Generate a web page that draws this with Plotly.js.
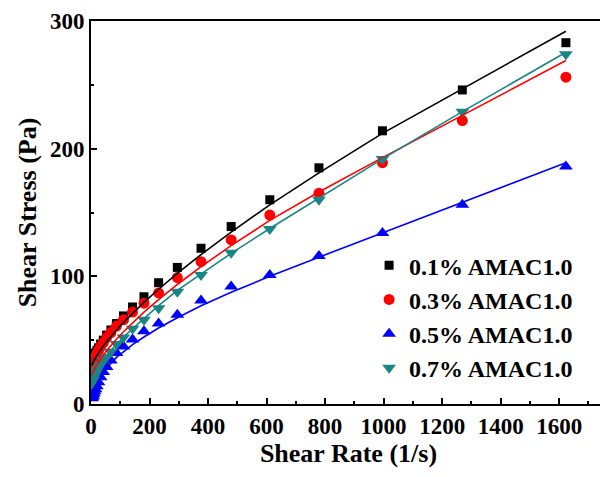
<!DOCTYPE html>
<html>
<head>
<meta charset="utf-8">
<script src="https://cdn.plot.ly/plotly-3.0.1.min.js"></script>
<style>
html, body { margin: 0; padding: 0; background: #fff; overflow: hidden; }
#chart { width: 606px; height: 477px; }
</style>
</head>
<body>
<div id="chart"></div>
<script>
// Shear rate (1/s)
const shearRate = [2.9, 3.7, 4.7, 6.0, 7.6, 9.7, 12.4, 15.8, 20.2, 25.8, 33, 42, 53.5, 68, 87, 111, 142, 181, 231, 295, 376, 479, 611, 779, 996, 1269, 1623];

// Measured shear stress (Pa)
const amac01 = [33, 33.5, 34, 35, 36, 37, 39, 40, 42, 44, 47, 50, 54, 58, 63, 69, 76, 84, 95, 107, 122, 139, 160, 185, 214, 246, 283];
const amac03 = [25, 26.5, 28, 29.5, 31, 33, 35, 37, 39.5, 42, 45, 48, 52, 56, 61, 66, 72, 79, 87, 99, 111.5, 128.5, 148, 165, 189, 222, 256];
const amac05 = [4.5, 5, 5.5, 6.5, 7.5, 8.5, 10, 11.5, 14, 17, 21, 25, 29, 34, 40, 45, 50.5, 57, 63, 70, 81, 92, 101, 116, 134, 156, 186];
const amac07 = [16, 17, 18, 19, 20, 21.5, 23, 24.5, 26.5, 28.5, 31, 34, 37, 41, 47, 52, 59, 66, 75, 88, 101, 118.5, 137, 160, 192, 229, 274];

// Fitted curves (Pa)
const fit01 = [30.4, 30.9, 31.4, 32.1, 32.9, 33.9, 35.0, 36.4, 38.1, 40.1, 42.6, 45.4, 48.8, 52.9, 57.9, 63.9, 71.1, 79.6, 89.9, 102.3, 117, 134.6, 156, 181, 212, 247, 292];
const fit03 = [22.7, 23.2, 23.8, 24.5, 25.4, 26.4, 27.6, 29.1, 30.8, 32.9, 35.4, 38.3, 41.7, 45.8, 50.7, 56.6, 63.6, 71.9, 81.8, 93.6, 107.6, 124, 143.8, 166, 193, 226, 269];
const fit05 = [5.7, 6.5, 7.4, 8.5, 9.7, 11, 12.7, 14.5, 16.5, 19, 21.5, 24.5, 28, 32, 36.5, 41, 46.5, 52.5, 59.5, 67.5, 77, 87.5, 100, 115, 134, 158, 189];
const fit07 = [18, 18.5, 19, 20, 21, 22, 23.5, 25, 27, 29, 31.5, 34.5, 38, 42, 47, 52.5, 59, 67, 77, 89, 102, 118, 137.5, 161, 192, 229, 275.5];

const seriesNames = ['0.1% AMAC1.0', '0.3% AMAC1.0', '0.5% AMAC1.0', '0.7% AMAC1.0'];
const xTicks = [0, 200, 400, 600, 800, 1000, 1200, 1400, 1600];
const yTicks = [0, 100, 200, 300];

const colors = ['#000000', '#ff0000', '#0000ff', '#1a8585'];
const symbols = ['square', 'circle', 'triangle-up', 'triangle-down'];
const sizes = [9, 11, 12, 12];
const data = [amac01, amac03, amac05, amac07];
const fits = [fit01, fit03, fit05, fit07];

const traces = [];
for (let i = 0; i < 4; i++) {
  traces.push({
    x: shearRate, y: data[i], type: 'scatter', mode: 'markers', name: seriesNames[i],
    marker: { symbol: symbols[i], size: sizes[i], color: colors[i], line: { width: 0 } }
  });
}
for (let i = 0; i < 4; i++) {
  traces.push({
    x: shearRate, y: fits[i], type: 'scatter', mode: 'lines', showlegend: false,
    line: { color: colors[i], width: 1.6 }, hoverinfo: 'skip'
  });
}

const fontFam = '"Liberation Serif", "Times New Roman", serif';
const layout = {
  width: 606, height: 477,
  margin: { l: 91, r: 0, t: 21, b: 73 },
  paper_bgcolor: '#fff', plot_bgcolor: '#fff',
  font: { family: fontFam, color: '#000', weight: 'bold' },
  showlegend: true,
  legend: {
    x: 0.54, y: 0.42, xanchor: 'left', yanchor: 'top',
    font: { family: fontFam, size: 24, color: '#000', weight: 'bold' },
    bgcolor: 'rgba(0,0,0,0)', tracegroupgap: 0
  },
  xaxis: {
    range: [0, 1760], autorange: false,
    tickvals: xTicks, ticktext: xTicks.map(String),
    ticks: 'inside', ticklen: 6, tickwidth: 2, tickcolor: '#000',
    minor: { dtick: 100, tick0: 0, ticks: 'inside', ticklen: 3, tickwidth: 2, tickcolor: '#000' },
    showline: true, linewidth: 2, linecolor: '#000', mirror: true,
    showgrid: false, zeroline: false,
    tickfont: { family: fontFam, size: 23, color: '#000', weight: 'bold' },
    title: { text: 'Shear Rate (1/s)', standoff: 5, font: { family: fontFam, size: 26, color: '#000', weight: 'bold' } }
  },
  yaxis: {
    range: [0, 300], autorange: false,
    tickvals: yTicks, ticktext: yTicks.map(String),
    ticks: 'inside', ticklen: 6, tickwidth: 2, tickcolor: '#000',
    minor: { dtick: 50, tick0: 0, ticks: 'inside', ticklen: 3, tickwidth: 2, tickcolor: '#000' },
    showline: true, linewidth: 2, linecolor: '#000', mirror: true,
    showgrid: false, zeroline: false,
    tickfont: { family: fontFam, size: 23, color: '#000', weight: 'bold' },
    title: { text: 'Shear Stress (Pa)', standoff: 6, font: { family: fontFam, size: 26, color: '#000', weight: 'bold' } }
  }
};

Plotly.newPlot('chart', traces, layout, { displayModeBar: false, staticPlot: true });
</script>
</body>
</html>
